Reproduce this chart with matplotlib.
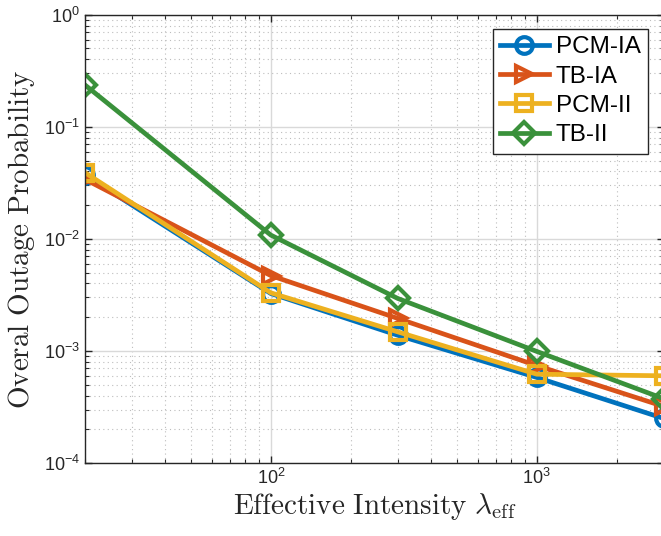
import matplotlib
matplotlib.use("Agg")
import matplotlib.pyplot as plt
from matplotlib.ticker import LogLocator, NullFormatter

# effective intensity values and outage probabilities per scheme
intensity = [20, 100, 300, 1000, 3000]
pcm_ia = [0.037, 0.00325, 0.00138, 5.8e-4, 2.5e-4]
tb_ia = [0.034, 0.0047, 0.00195, 7.4e-4, 3.2e-4]
pcm_ii = [0.039, 0.0033, 0.00148, 6.2e-4, 6.0e-4]
tb_ii = [0.236, 0.0108, 0.00294, 9.9e-4, 3.75e-4]

series = [
    ("PCM-IA", pcm_ia, "#0072BD", "o"),
    ("TB-IA", tb_ia, "#D95319", ">"),
    ("PCM-II", pcm_ii, "#EDB120", "s"),
    ("TB-II", tb_ii, "#3A913B", "D"),
]

plt.rcParams["font.family"] = ["Liberation Sans", "DejaVu Sans"]

fig = plt.figure(figsize=(6.61, 5.36), dpi=100)
ax = fig.add_axes([85 / 661, 73 / 536, 578.6 / 661, 448.3 / 536])

for name, vals, color, marker in series:
    ms = 11 if marker == "D" else 12
    ax.plot(intensity, vals, color=color, lw=3.4, marker=marker,
            markersize=ms, markerfacecolor="none", markeredgewidth=3,
            label=name)

ax.set_xscale("log")
ax.set_yscale("log")
ax.set_xlim(20, 3000)
ax.set_ylim(1e-4, 1)

ax.xaxis.set_minor_locator(LogLocator(base=10, subs=range(2, 10), numticks=20))
ax.yaxis.set_minor_locator(LogLocator(base=10, subs=range(2, 10), numticks=20))
ax.xaxis.set_minor_formatter(NullFormatter())
ax.yaxis.set_minor_formatter(NullFormatter())

ax.grid(True, which="major", color="#d9d9d9", lw=1.0, ls="-")
ax.grid(True, which="minor", color="#bdbdbd", lw=0.8, ls=(0, (1, 3)))
ax.set_axisbelow(True)

ax.tick_params(which="both", direction="in", top=True, right=True,
               colors="#262626", labelcolor="#262626", labelsize=13)
ax.tick_params(which="major", length=5, width=1)
ax.tick_params(which="minor", length=3, width=0.8)
for sp in ax.spines.values():
    sp.set_color("#262626")
    sp.set_linewidth(1.0)

ax.set_xlabel(r"$\mathrm{Effective\ Intensity}\ \lambda_{\mathrm{eff}}$",
              fontsize=21, math_fontfamily="cm", color="#262626", labelpad=2)
ax.set_ylabel(r"$\mathrm{Overal\ Outage\ Probability}$",
              fontsize=21, math_fontfamily="cm", color="#262626", labelpad=5)

leg = ax.legend(loc="upper right", bbox_to_anchor=(0.973, 0.968),
                fontsize=17.5, handlelength=2.0, handletextpad=0.3,
                borderpad=0.3, labelspacing=0.3, fancybox=False,
                framealpha=1, edgecolor="#262626", borderaxespad=0)
leg.get_frame().set_linewidth(1.0)
for t in leg.get_texts():
    t.set_color("black")

fig.savefig("out.png", dpi=100)
